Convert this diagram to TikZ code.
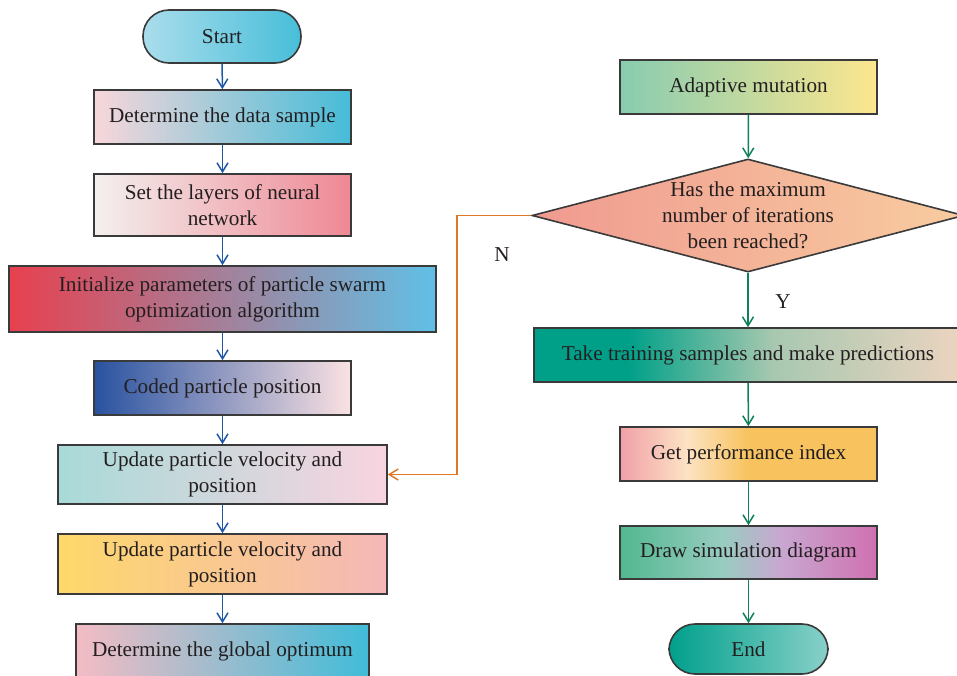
\documentclass[tikz,border=0pt]{standalone}
\usepackage{fontspec}
\setmainfont{Liberation Serif}
\usetikzlibrary{arrows.meta,shapes.geometric}

\definecolor{boxline}{HTML}{3A3A3A}
\definecolor{textcol}{HTML}{231F20}
\definecolor{arrblue}{HTML}{2058A8}
\definecolor{arrgreen}{HTML}{10805A}
\definecolor{arrorange}{HTML}{E0782A}
\definecolor{perfA}{HTML}{F0A0A8}
\definecolor{perfB}{HTML}{FDE3C4}
\definecolor{perfC}{HTML}{F8C35E}
\definecolor{predA}{HTML}{00A088}
\definecolor{predB}{HTML}{A8C8B0}
\definecolor{predC}{HTML}{ECD4C0}
\definecolor{simA}{HTML}{52B890}
\definecolor{simB}{HTML}{98CCC0}
\definecolor{simC}{HTML}{C8A8D0}
\definecolor{simD}{HTML}{D070B0}
\pgfdeclarehorizontalshading{perfshade}{100bp}{color(0bp)=(perfA); color(25bp)=(perfA); color(38bp)=(perfB); color(50bp)=(perfC); color(100bp)=(perfC)}
\pgfdeclarehorizontalshading{predshade}{100bp}{color(0bp)=(predA); color(36bp)=(predA); color(53bp)=(predB); color(75bp)=(predC); color(100bp)=(predC)}
\pgfdeclarehorizontalshading{simshade}{100bp}{color(0bp)=(simA); color(25bp)=(simA); color(45bp)=(simB); color(56bp)=(simC); color(75bp)=(simD); color(100bp)=(simD)}

\tikzset{
  box/.style={draw=boxline, line width=0.8pt, minimum width=128.5pt, minimum height=27pt,
    inner sep=1pt, align=center, text=textcol, font=\fontsize{10.6}{13}\selectfont},
  term/.style={box, rounded corners=13pt, minimum width=79pt, minimum height=26.5pt},
  blueline/.style={draw=arrblue, line width=0.75pt, -{Straight Barb[length=4.5pt,width=5.5pt]}},
  greenline/.style={draw=arrgreen, line width=0.75pt, -{Straight Barb[length=4.5pt,width=5.5pt]}},
  loopline/.style={draw=arrorange, line width=0.75pt, -{Straight Barb[length=4.5pt,width=5.5pt]}},
  lab/.style={text=textcol, font=\fontsize{10.6}{13}\selectfont}
}

\begin{document}
\begin{tikzpicture}[x=0.5pt,y=-0.5pt]
  \useasboundingbox (0,0) rectangle (957,675);

  \node[term, left color={rgb,255:red,170;green,221;blue,236}, right color={rgb,255:red,72;green,190;blue,217}] (start) at (222,36.5) {Start};
  \node[box, left color={rgb,255:red,248;green,215;blue,218}, middle color={rgb,255:red,200;green,214;blue,226}, right color={rgb,255:red,70;green,188;blue,216}] (sample) at (222.5,117) {Determine the data sample};
  \node[box, minimum height=31pt, left color={rgb,255:red,243;green,240;blue,238}, middle color={rgb,255:red,242;green,220;blue,216}, right color={rgb,255:red,238;green,136;blue,148}] (layers) at (222.5,205) {Set the layers of neural\\network};
  \node[box, minimum width=213.5pt, minimum height=33pt, left color={rgb,255:red,232;green,64;blue,78}, middle color={rgb,255:red,184;green,152;blue,184}, right color={rgb,255:red,96;green,192;blue,230}] (init) at (222.5,299) {Initialize parameters of particle swarm\\optimization algorithm};
  \node[box, left color={rgb,255:red,40;green,82;blue,160}, middle color={rgb,255:red,196;green,164;blue,196}, right color={rgb,255:red,251;green,226;blue,226}] (coded) at (222.5,388) {Coded particle position};
  \node[box, minimum width=164.5pt, minimum height=29.5pt, left color={rgb,255:red,168;green,218;blue,216}, middle color={rgb,255:red,204;green,228;blue,232}, right color={rgb,255:red,248;green,212;blue,224}] (upd1) at (222.5,474.5) {Update particle velocity and\\position};
  \node[box, minimum width=164.5pt, minimum height=30pt, left color={rgb,255:red,254;green,216;blue,106}, middle color={rgb,255:red,251;green,198;blue,154}, right color={rgb,255:red,244;green,184;blue,184}] (upd2) at (222.5,564) {Update particle velocity and\\position};
  \node[box, minimum width=146.5pt, left color={rgb,255:red,244;green,188;blue,196}, middle color={rgb,255:red,192;green,196;blue,216}, right color={rgb,255:red,64;green,188;blue,216}] (glob) at (222.5,651) {Determine the global optimum};

  \node[box, left color={rgb,255:red,136;green,204;blue,176}, middle color={rgb,255:red,224;green,224;blue,160}, right color={rgb,255:red,253;green,230;blue,142}] (mut) at (748.5,87) {Adaptive mutation};
  \node[diamond, draw=boxline, line width=0.8pt, minimum width=216pt, minimum height=56.5pt, inner sep=0pt, aspect=3.8, left color={rgb,255:red,240;green,154;blue,144}, middle color={rgb,255:red,242;green,158;blue,146}, right color={rgb,255:red,248;green,204;blue,160}] (dec) at (748,215.5) {};
  \node[lab, align=center] (decq) at (748,215.5) {Has the maximum\\number of iterations\\been reached?};
  \node[box, minimum width=214pt, shading=predshade] (pred) at (748,355) {Take training samples and make predictions};
  \node[box, shading=perfshade] (perf) at (748.5,454) {Get performance index};
  \node[box, minimum height=26.5pt, shading=simshade] (sim) at (748.5,552.5) {Draw simulation diagram};
  \node[term, minimum width=79.5pt, minimum height=25pt, left color={rgb,255:red,0;green,160;blue,140}, middle color={rgb,255:red,72;green,184;blue,176}, right color={rgb,255:red,136;green,208;blue,200}] (end) at (748.5,649) {End};

  \draw[blueline] (start) -- (sample);
  \draw[blueline] (sample) -- (layers);
  \draw[blueline] (layers) -- (init);
  \draw[blueline] (init) -- (coded);
  \draw[blueline] (coded) -- (upd1);
  \draw[blueline] (upd1) -- (upd2);
  \draw[blueline] (upd2) -- (glob);

  \draw[greenline] (mut) -- (dec);
  \draw[greenline] (dec) -- (pred);
  \draw[greenline] (pred) -- (perf);
  \draw[greenline] (perf) -- (sim);
  \draw[greenline] (sim) -- (end);

  \draw[loopline] (dec.west) -- ++(-74,0) |- (upd1.east);
  \node[lab] (nlab) at (502,255) {N};
  \node[lab] (ylab) at (783,302) {Y};
\end{tikzpicture}
\end{document}
